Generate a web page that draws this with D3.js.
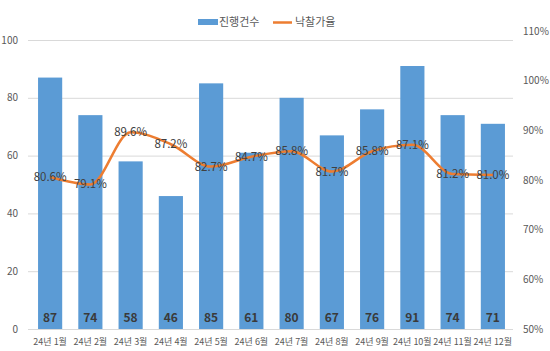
<!DOCTYPE html>
<html>
<head>
<meta charset="utf-8">
<script src="https://cdn.jsdelivr.net/npm/d3@7"></script>
<style>
  body { margin: 0; background: #fff; }
  text { font-family: "Noto Sans CJK KR", "Malgun Gothic", sans-serif; }
</style>
</head>
<body>
<div id="chart"></div>
<script>
// data
var months = ["24년 1월", "24년 2월", "24년 3월", "24년 4월", "24년 5월", "24년 6월",
              "24년 7월", "24년 8월", "24년 9월", "24년 10월", "24년 11월", "24년 12월"];
var counts = [87, 74, 58, 46, 85, 61, 80, 67, 76, 91, 74, 71];
var rates = [80.6, 79.1, 89.6, 87.2, 82.7, 84.7, 85.8, 81.7, 85.8, 87.1, 81.2, 81.0];
var leftTicks = [0, 20, 40, 60, 80, 100];
var rightTicks = [50, 60, 70, 80, 90, 100, 110];

var width = 550, height = 351;
var plot_left = 30, plot_right = 513;

var svg = d3.select("#chart").append("svg")
    .attr("width", width)
    .attr("height", height);

var x = d3.scaleBand()
    .domain(months)
    .range([plot_left, plot_right])
    .paddingInner(0.4)
    .paddingOuter(0.2);

var yL = d3.scaleLinear().domain([0, 100]).range([329, 40]);
var yR = d3.scaleLinear().domain([50, 110]).range([329, 31]);

// gridlines
svg.append("g").selectAll("line")
    .data(leftTicks)
    .join("line")
    .attr("x1", plot_left - 2).attr("x2", plot_right)
    .attr("y1", d => yL(d) + 0.5).attr("y2", d => yL(d) + 0.5)
    .attr("stroke", "#d9d9d9")
    .attr("stroke-width", 1);

// left axis labels
svg.append("g").selectAll("text")
    .data(leftTicks)
    .join("text")
    .attr("x", 18).attr("y", d => yL(d))
    .attr("dy", "0.35em")
    .attr("text-anchor", "end")
    .attr("font-size", 10)
    .attr("fill", "#595959")
    .text(d => d);

// right axis labels
svg.append("g").selectAll("text")
    .data(rightTicks)
    .join("text")
    .attr("x", 523).attr("y", d => yR(d))
    .attr("dy", "0.35em")
    .attr("text-anchor", "start")
    .attr("font-size", 10)
    .attr("fill", "#595959")
    .text(d => d + "%");

// bars
svg.append("g").selectAll("rect")
    .data(counts)
    .join("rect")
    .attr("x", (d, i) => x(months[i]))
    .attr("width", x.bandwidth())
    .attr("y", d => yL(d))
    .attr("height", d => yL(0) - yL(d))
    .attr("fill", "#5b9bd5");

// bar value labels
svg.append("g").selectAll("text")
    .data(counts)
    .join("text")
    .attr("x", (d, i) => x(months[i]) + x.bandwidth() / 2)
    .attr("y", 318)
    .attr("dy", "0.35em")
    .attr("text-anchor", "middle")
    .attr("font-size", 12)
    .attr("font-weight", "bold")
    .attr("fill", "#3a3a3a")
    .text(d => d);

// x labels
svg.append("g").selectAll("text")
    .data(months)
    .join("text")
    .attr("x", d => x(d) + x.bandwidth() / 2)
    .attr("y", 345)
    .attr("text-anchor", "middle")
    .attr("font-size", 9)
    .attr("fill", "#595959")
    .text(d => d);

// rate line
var line = d3.line()
    .x((d, i) => x(months[i]) + x.bandwidth() / 2)
    .y(d => yR(d))
    .curve(d3.curveMonotoneX);

svg.append("path")
    .datum(rates)
    .attr("d", line)
    .attr("fill", "none")
    .attr("stroke", "#ed7d31")
    .attr("stroke-width", 2.5)
    .attr("stroke-linejoin", "round");

// rate labels
svg.append("g").selectAll("text")
    .data(rates)
    .join("text")
    .attr("x", (d, i) => x(months[i]) + x.bandwidth() / 2)
    .attr("y", d => yR(d))
    .attr("dy", "0.35em")
    .attr("text-anchor", "middle")
    .attr("font-size", 11.5)
    .attr("fill", "#404040")
    .text(d => d.toFixed(1) + "%");

// legend
var legend = svg.append("g");
legend.append("rect")
    .attr("x", 198).attr("y", 19).attr("width", 20).attr("height", 6)
    .attr("fill", "#5b9bd5");
legend.append("text")
    .attr("x", 219).attr("y", 22).attr("dy", "0.35em")
    .attr("font-size", 11).attr("fill", "#595959")
    .text("진행건수");
legend.append("line")
    .attr("x1", 273).attr("x2", 292).attr("y1", 22.5).attr("y2", 22.5)
    .attr("stroke", "#ed7d31").attr("stroke-width", 2.5);
legend.append("text")
    .attr("x", 295).attr("y", 22).attr("dy", "0.35em")
    .attr("font-size", 11).attr("fill", "#595959")
    .text("낙찰가율");
</script>
</body>
</html>
